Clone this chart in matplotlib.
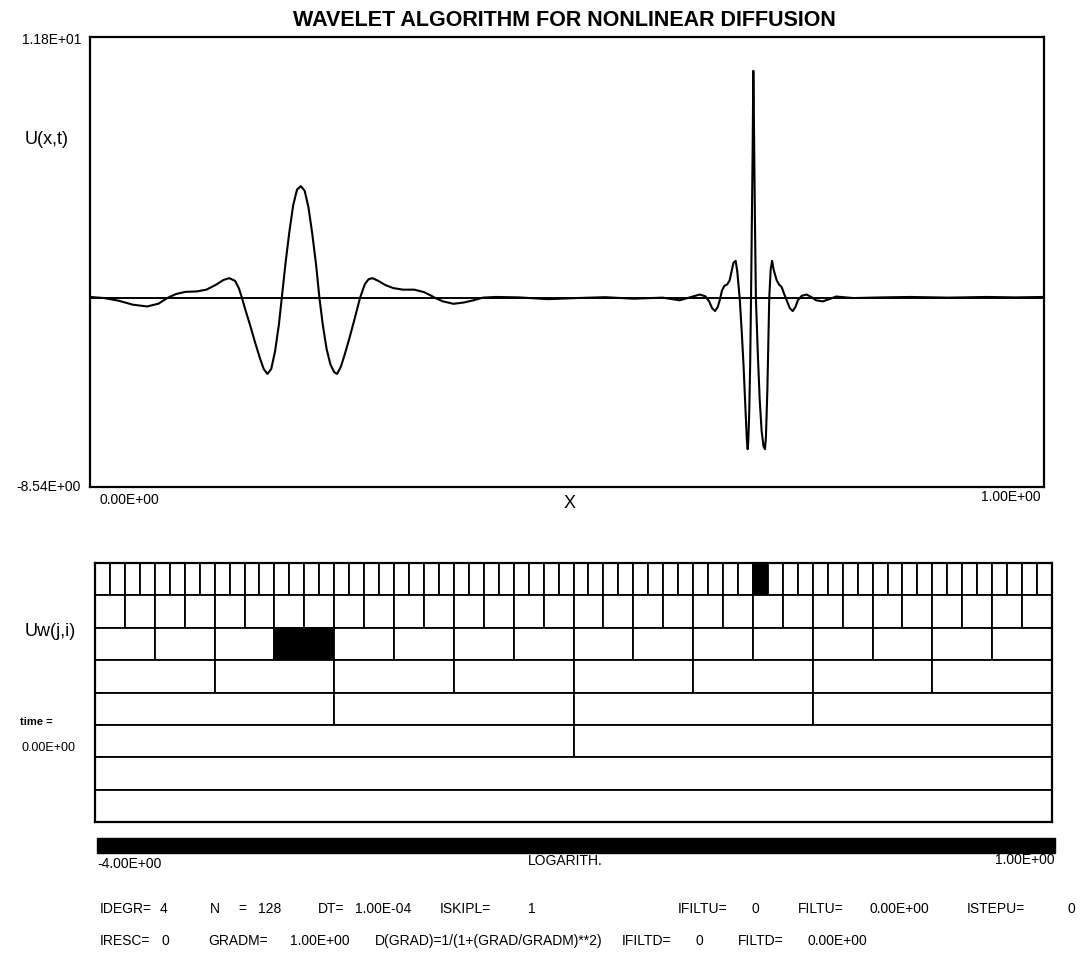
import matplotlib
matplotlib.use('Agg')
import matplotlib.pyplot as plt
import matplotlib.cm as cm
from matplotlib.colors import ListedColormap, Normalize

plt.rcParams['font.family'] = ['Liberation Sans Narrow', 'Liberation Sans', 'DejaVu Sans']

# --- data ---
x_vals = [0.000, 0.015, 0.030, 0.045, 0.060, 0.072, 0.081, 0.090, 0.100, 0.112,
          0.122, 0.132, 0.140, 0.146, 0.152, 0.156, 0.159, 0.163, 0.168, 0.173,
          0.178, 0.182, 0.186, 0.190, 0.194, 0.198, 0.201, 0.205, 0.209, 0.213,
          0.217, 0.221, 0.225, 0.229, 0.233, 0.237, 0.2405, 0.244, 0.248, 0.252,
          0.256, 0.259, 0.263, 0.267, 0.272, 0.277, 0.283, 0.288, 0.292, 0.296,
          0.302, 0.310, 0.318, 0.328, 0.340, 0.350, 0.358, 0.362, 0.370, 0.381,
          0.392, 0.402, 0.412, 0.425, 0.450, 0.480, 0.510, 0.540, 0.570, 0.600,
          0.618, 0.628, 0.639, 0.645, 0.649, 0.652, 0.6552, 0.658, 0.6604, 0.6625,
          0.665, 0.668, 0.6705, 0.6725, 0.6745, 0.6768, 0.6785, 0.681, 0.683, 0.685,
          0.687, 0.6885, 0.6894, 0.690, 0.691, 0.692, 0.6929, 0.6938, 0.6946, 0.6950,
          0.6953, 0.6957, 0.6962, 0.6970, 0.698, 0.700, 0.702, 0.704, 0.706, 0.7075,
          0.7085, 0.7100, 0.7110, 0.712, 0.7135, 0.715, 0.7165, 0.7198, 0.7225, 0.725,
          0.7275, 0.7303, 0.7335, 0.7366, 0.7395, 0.742, 0.746, 0.751, 0.756, 0.761,
          0.768, 0.775, 0.782, 0.800, 0.830, 0.860, 0.900, 0.940, 0.970, 1.000]
u_vals = [0.05, 0.00, -0.12, -0.30, -0.38, -0.25, 0.00, 0.18, 0.28, 0.30,
          0.38, 0.60, 0.82, 0.90, 0.78, 0.45, 0.05, -0.55, -1.25, -2.00,
          -2.70, -3.20, -3.43, -3.20, -2.40, -1.20, 0.00, 1.60, 3.00, 4.20,
          4.90, 5.06, 4.85, 4.10, 2.90, 1.50, 0.00, -1.20, -2.30, -3.00,
          -3.35, -3.43, -3.10, -2.55, -1.80, -1.00, 0.00, 0.62, 0.85, 0.90,
          0.78, 0.58, 0.45, 0.38, 0.38, 0.27, 0.10, 0.00, -0.15, -0.26,
          -0.20, -0.10, 0.02, 0.05, 0.03, -0.05, 0.00, 0.04, -0.03, 0.02,
          -0.10, 0.02, 0.16, 0.08, -0.15, -0.45, -0.59, -0.40, -0.05, 0.35,
          0.55, 0.62, 0.80, 1.20, 1.60, 1.68, 1.20, 0.00, -1.40, -3.00,
          -5.00, -6.40, -6.83, -6.50, -5.20, -3.00, 0.00, 3.50, 6.70, 9.00,
          10.27, 9.00, 6.70, 3.50, 0.00, -2.50, -4.60, -6.00, -6.70, -6.83,
          -6.30, -4.20, -2.20, 0.00, 1.30, 1.68, 1.30, 0.80, 0.60, 0.50,
          0.20, -0.10, -0.45, -0.59, -0.40, -0.10, 0.10, 0.16, 0.05, -0.10,
          -0.15, -0.05, 0.07, 0.00, 0.03, 0.05, 0.02, 0.05, 0.03, 0.05]

y_min, y_max = -8.54, 11.8
x_min, x_max = 0.0, 1.0

# wavelet levels, top row first (number of cells per row)
level_cells = [64, 32, 16, 8, 4, 2, 1, 1]
filled_row = [0, 2]
filled_index = [44, 3]

cbar_min, cbar_max = -4.0, 1.0
time_value = 0.0

W, H = 1083, 956
fig = plt.figure(figsize=(W / 100, H / 100), dpi=100)


def box(left, top, right, bottom):
    return [left / W, 1 - bottom / H, (right - left) / W, (bottom - top) / H]


def ftext(x, y, s, **kw):
    fig.text(x / W, 1 - y / H, s, **kw)


# top panel: U(x,t)
ax = fig.add_axes(box(90, 37, 1044, 487))
ax.plot(x_vals, u_vals, color='black', lw=1.5)
ax.axhline(0, color='black', lw=1.4)
ax.set_xlim(x_min, x_max)
ax.set_ylim(y_min, y_max)
ax.set_xticks([])
ax.set_yticks([])
for s in ax.spines.values():
    s.set_linewidth(1.6)

ftext(564, 20, 'WAVELET ALGORITHM FOR NONLINEAR DIFFUSION', ha='center', va='center',
      fontsize=15.5, fontweight='bold', family=['Liberation Sans', 'DejaVu Sans'])
ftext(81, 40, f'{y_max:.2E}', ha='right', va='center', fontsize=10)
ftext(81, 487, f'{y_min:.2E}', ha='right', va='center', fontsize=10)
ftext(25, 140, 'U(x,t)', ha='left', va='center', fontsize=13, family=['Liberation Sans', 'DejaVu Sans'])
ftext(100, 500, f'{x_min:.2E}', ha='left', va='center', fontsize=10)
ftext(1041, 497, f'{x_max:.2E}', ha='right', va='center', fontsize=10)
ftext(570, 503, 'X', ha='center', va='center', fontsize=13, family=['Liberation Sans', 'DejaVu Sans'])

# wavelet coefficient grid
gx = fig.add_axes(box(95, 563, 1052, 822))
n_rows = len(level_cells)
filled = set(zip(filled_row, filled_index))
for r, n in enumerate(level_cells):
    lefts = [i / n for i in range(n)]
    colors = ['black' if (r, i) in filled else 'white' for i in range(n)]
    gx.barh([n_rows - 1 - r] * n, [1 / n] * n, left=lefts, height=1,
            color=colors, edgecolor='black', linewidth=1.3)
gx.set_xlim(0, 1)
gx.set_ylim(-0.5, n_rows - 0.5)
gx.set_xticks([])
gx.set_yticks([])
for s in gx.spines.values():
    s.set_linewidth(1.6)

ftext(25, 632, 'Uw(j,i)', ha='left', va='center', fontsize=13, family=['Liberation Sans', 'DejaVu Sans'])
ftext(20, 722, 'time =', ha='left', va='center', fontsize=8, fontweight='bold')
ftext(22, 748, f'{time_value:.2E}', ha='left', va='center', fontsize=9)

# colour bar
cax = fig.add_axes(box(97, 838, 1055, 853))
sm = cm.ScalarMappable(norm=Normalize(cbar_min, cbar_max), cmap=ListedColormap(['black']))
cb = fig.colorbar(sm, cax=cax, orientation='horizontal')
cb.set_ticks([])
cb.outline.set_linewidth(1.0)
ftext(97, 864, f'{cbar_min:.2E}', ha='left', va='center', fontsize=10)
ftext(565, 861, 'LOGARITH.', ha='center', va='center', fontsize=10)
ftext(1055, 860, f'{cbar_max:.2E}', ha='right', va='center', fontsize=10)

# run parameters
line1 = [('IDEGR=', 100), ('4', 160), ('N', 210), ('=', 238), ('128', 258),
         ('DT=', 318), ('1.00E-04', 355), ('ISKIPL=', 440), ('1', 528),
         ('IFILTU=', 678), ('0', 752), ('FILTU=', 798), ('0.00E+00', 870),
         ('ISTEPU=', 967), ('0', 1068)]
line2 = [('IRESC=', 100), ('0', 161), ('GRADM=', 208), ('1.00E+00', 290),
         ('D(GRAD)=1/(1+(GRAD/GRADM)**2)', 375), ('IFILTD=', 622), ('0', 696),
         ('FILTD=', 738), ('0.00E+00', 808)]
for s, x in line1:
    ftext(x, 909, s, ha='left', va='center', fontsize=10)
for s, x in line2:
    ftext(x, 941, s, ha='left', va='center', fontsize=10)

fig.savefig('out.png', dpi=100)
